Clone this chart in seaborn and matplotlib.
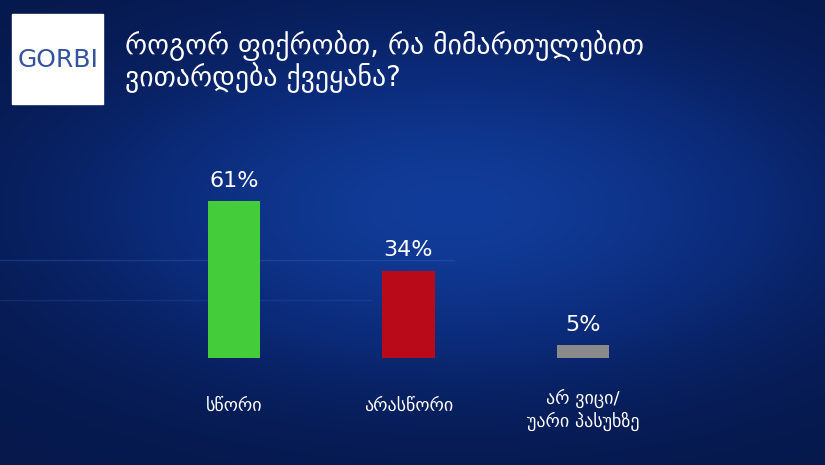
import numpy as np
import pandas as pd
import matplotlib.pyplot as plt
import seaborn as sns
from matplotlib.colors import LinearSegmentedColormap

# ------------------------------------------------------------
# data
# ------------------------------------------------------------
categories = ["სწორი", "არასწორი", "არ ვიცი/\nუარი პასუხზე"]
values = [61, 34, 5]
bar_colors = ["#44cc3a", "#b80a18", "#8a8a8a"]
title = "როგორ ფიქრობთ, რა მიმართულებით\nვითარდება ქვეყანა?"

df = pd.DataFrame({"cat": categories, "val": values})

sns.set_theme(style="white")
plt.rcParams["font.family"] = ["DejaVu Sans"]

fig = plt.figure(figsize=(8.25, 4.65), dpi=100)

# background gradient
bg = fig.add_axes([0, 0, 1, 1])
bg.set_axis_off()
yy, xx = np.mgrid[0:1:200j, 0:1:360j]
glow = np.exp(-((xx - 0.55) ** 2) / 0.18 - ((yy - 0.45) ** 2) / 0.12)
shade = 0.15 + 0.85 * glow
cmap = LinearSegmentedColormap.from_list("bgc", ["#04113a", "#0b2a78", "#1240a0"])
bg.imshow(shade, cmap=cmap, aspect="auto", extent=[0, 1, 0, 1], vmin=0, vmax=1.1)
bg.set_xlim(0, 1)
bg.set_ylim(0, 1)

# faint decoration lines
bg.axhline(1 - 260 / 465, xmin=0, xmax=0.55, color="#3f6ec0", lw=1, alpha=0.3)
bg.axhline(1 - 300 / 465, xmin=0, xmax=0.45, color="#3f6ec0", lw=1, alpha=0.2)

# logo box
bg.add_patch(plt.Rectangle((12 / 825, 1 - 104 / 465), 91 / 825, 90 / 465,
                           color="white", zorder=3))
bg.text(58 / 825, 1 - 60 / 465, "GORBI", color="#34539f", fontsize=18,
        ha="center", va="center", zorder=4)

# title
bg.text(125 / 825, 1 - 62 / 465, title, color="white", fontsize=20,
        ha="left", va="center", linespacing=1.05, zorder=4)

# bars
ax = fig.add_axes([0, 0, 1, 1])
ax.patch.set_alpha(0)
sns.barplot(data=df, x="cat", y="val", hue="cat", palette=bar_colors,
            width=0.30, legend=False, ax=ax, saturation=1, linewidth=0)
ax.set_xlim(-1.341, 3.387)
ax.set_ylim(-41.6, 139.3)
ax.set_axis_off()

for i, v in enumerate(values):
    ax.text(i, v + 4, f"{v}%", color="white", fontsize=16,
            ha="center", va="bottom")
    lab = categories[i]
    if "\n" in lab:
        ax.text(i, -12, lab, color="white", fontsize=13, ha="center",
                va="top", linespacing=1.25)
    else:
        ax.text(i, -15, lab, color="white", fontsize=13, ha="center",
                va="top")

fig.savefig("out.png", dpi=100)
